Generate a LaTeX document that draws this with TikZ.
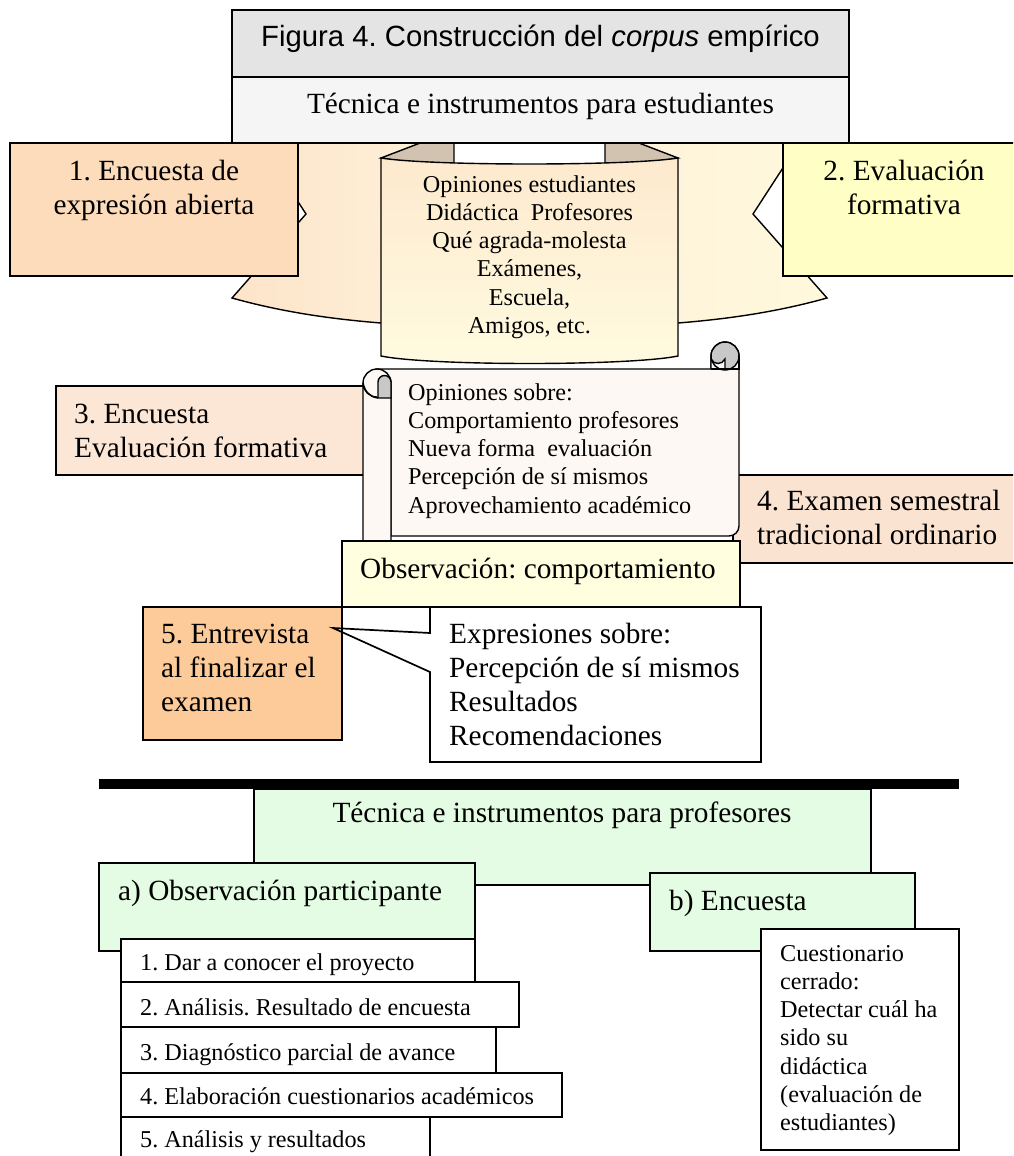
\documentclass[tikz,border=0pt]{standalone}
\usepackage{fontspec}
\setmainfont{Liberation Serif}
\newfontfamily\arialfont{Liberation Sans}
\frenchspacing
\definecolor{titlegray}{HTML}{E4E4E4}
\definecolor{subgray}{HTML}{F5F5F5}
\definecolor{peachA}{HTML}{FDDCBC}
\definecolor{yellowB}{HTML}{FFFFC5}
\definecolor{wingL}{HTML}{FDE4C9}
\definecolor{wingM}{HTML}{FEF2DA}
\definecolor{wingR}{HTML}{FFF9DC}
\definecolor{panelTop}{HTML}{FDE9CE}
\definecolor{panelBot}{HTML}{FFFBE0}
\definecolor{foldtan}{HTML}{D2C3B0}
\definecolor{peachC}{HTML}{FCE7D7}
\definecolor{peachD}{HTML}{FBE3D2}
\definecolor{obsyellow}{HTML}{FFFFE0}
\definecolor{orangeE}{HTML}{FCCB99}
\definecolor{greenF}{HTML}{E3FCE3}
\definecolor{scrollfill}{HTML}{FDF8F3}
\definecolor{curlgray}{HTML}{C8C8C8}
% stacked lines whose first baseline is the node's base
\newcommand\stackL[1]{\vtop{\halign{##\hfil\cr#1\crcr}}}
\newcommand\stackC[1]{\vtop{\halign{\hfil##\hfil\cr#1\crcr}}}
\begin{document}
\begin{tikzpicture}[x=1pt,y=-1pt,line join=miter,
  frame/.style={draw=black,line width=1.7pt},
  thin/.style={draw=black,line width=1.4pt},
  bigtxt/.style={font=\fontsize{29.3}{34}\selectfont,inner sep=0pt},
  smalltxt/.style={font=\fontsize{24.2}{28.3}\selectfont,inner sep=0pt}]
\useasboundingbox (0,0) rectangle (1013,1156);
\clip (0,0) rectangle (1013,1156);

% ---------- curved ribbon behind the student boxes ----------
\shade[thin,left color=wingL,right color=wingM]
  (232,100) -- (306,214) -- (232,298) .. controls (282,312) and (331,319) .. (381,323)
  -- (454,323) -- (454,100) -- cycle;
\shade[thin,left color=wingM,right color=wingR]
  (827,100) -- (753,214) -- (827,298) .. controls (777,312) and (728,319) .. (678,323)
  -- (605,323) -- (605,100) -- cycle;
\fill[white] (454,120) rectangle (605,175);
\draw[thin,fill=foldtan] (381,158) -- (441,135) -- (454,135) -- (454,170) -- cycle;
\draw[thin,fill=foldtan] (678,158) -- (618,135) -- (605,135) -- (605,170) -- cycle;
\shade[thin,top color=panelTop,bottom color=panelBot]
  (381,158) .. controls (430,166) and (629,166) .. (678,158) -- (678,356)
  .. controls (629,366) and (430,366) .. (381,356) -- cycle;
\node[smalltxt,anchor=base] (panel) at (529.5,192)
  {\stackC{Opiniones estudiantes\cr Didáctica~ Profesores\cr Qué agrada-molesta\cr Exámenes,\cr Escuela,\cr Amigos, etc.}};

% ---------- heading boxes ----------
\path[frame,fill=titlegray] (232,10) rectangle (849,77);
\path[frame,fill=subgray] (232,77) rectangle (849,143);
\node[inner sep=0pt,anchor=base,font=\arialfont\fontsize{29.3}{34}\selectfont] (title) at (540.5,47)
  {Figura 4. Construcción del \textit{corpus} empírico};
\node[bigtxt,anchor=base] (studhead) at (540.5,113) {Técnica e instrumentos para estudiantes};

% ---------- boxes 1 and 2 ----------
\path[frame,fill=peachA] (10,143) rectangle (298,276);
\node[bigtxt,anchor=base] (enc1) at (154,180) {\stackC{1. Encuesta de\cr expresión abierta}};
\path[frame,fill=yellowB] (783,143) rectangle (1030,276);
\node[bigtxt,anchor=base] (eval2) at (904,180) {\stackC{2. Evaluación\cr formativa}};

% ---------- boxes 3 and 4 ----------
\path[frame,fill=peachC] (56,386) rectangle (370,475);
\node[bigtxt,anchor=base west] (enc3) at (74,423) {\stackL{3. Encuesta\cr Evaluación formativa}};
\path[frame,fill=peachD] (733,475) rectangle (1030,563);
\node[bigtxt,anchor=base west] (exam4) at (757,510) {\stackL{4. Examen semestral\cr tradicional ordinario}};

% ---------- scroll ----------
\draw[thin,fill=scrollfill] (377,369) -- (711,369) -- (711,356)
  arc[start angle=180,end angle=360,radius=14] -- (739,526)
  arc[start angle=0,end angle=90,radius=10] -- (391,536) -- (391,383) -- cycle;
\fill[curlgray] (725,356) circle (13.3);
\draw[thin,fill=scrollfill] (711,369) -- (711,359) .. controls (714,365) and (722,365) .. (725,359) -- (725,369);
\draw[thin] (725,356) circle (14);
\draw[thin] (711,369) -- (739,369) (739,356) -- (739,370);
\draw[thin,fill=scrollfill] (391,550) -- (363,550) -- (363,383)
  arc[start angle=180,end angle=360,radius=14] -- cycle;
\draw[thin] (363,383) arc[start angle=180,end angle=90,radius=14];
\draw[thin] (363,383) .. controls (365,392) and (370,397) .. (378,398);
\draw[thin,fill=curlgray] (378,398) -- (378,382) arc[start angle=180,end angle=360,radius=6.5]
  -- (391,398) -- cycle;
\node[smalltxt,anchor=base west] (opin) at (408,400)
  {\stackL{Opiniones sobre:\cr Comportamiento profesores\cr Nueva forma~ evaluación\cr Percepción de sí mismos\cr Aprovechamiento académico}};

% ---------- observation box ----------
\path[frame,fill=obsyellow] (342,541) rectangle (740,607);
\node[bigtxt,anchor=base west] (obs) at (360,578) {Observación: comportamiento};

% ---------- interview box and callout ----------
\path[frame,fill=orangeE] (143,607) rectangle (342,740);
\node[bigtxt,anchor=base west] (entr5) at (161,643) {\stackL{5. Entrevista\cr al finalizar el\cr examen}};
\draw[frame,fill=white] (430,607) -- (761,607) -- (761,762) -- (430,762) -- (430,672)
  -- (333,628) -- (430,633) -- cycle;
\draw[frame] (342,607) -- (342,740);
\node[bigtxt,anchor=base west] (expr) at (449,643)
  {\stackL{Expresiones sobre:\cr Percepción de sí mismos\cr Resultados\cr Recomendaciones}};

% ---------- separator ----------
\fill[black] (99,779) rectangle (959,789);

% ---------- teachers ----------
\path[frame,fill=greenF] (254,789) rectangle (871,885);
\node[bigtxt,anchor=base] (profhead) at (562,822) {Técnica e instrumentos para profesores};
\path[frame,fill=greenF] (99,863) rectangle (475,951);
\node[bigtxt,anchor=base west] (obsa) at (118,900) {a) Observación participante};
\path[frame,fill=greenF] (650,873) rectangle (915,951);
\node[bigtxt,anchor=base west] (encb) at (669,910) {b) Encuesta};

\path[frame,fill=white] (121,939) rectangle (475,982);
\node[smalltxt,anchor=base west] (it1) at (140,970) {1. Dar a conocer el proyecto};
\path[frame,fill=white] (121,982) rectangle (519,1027);
\node[smalltxt,anchor=base west] (it2) at (140,1015) {2. Análisis. Resultado de encuesta};
\path[frame,fill=white] (121,1027) rectangle (496,1073);
\node[smalltxt,anchor=base west] (it3) at (140,1060) {3. Diagnóstico parcial de avance};
\path[frame,fill=white] (121,1073) rectangle (562,1117);
\node[smalltxt,anchor=base west] (it4) at (140,1104) {4. Elaboración cuestionarios académicos};
\path[frame,fill=white] (121,1117) rectangle (430,1170);
\node[smalltxt,anchor=base west] (it5) at (140,1147) {5. Análisis y resultados};

\path[frame,fill=white] (761,929) rectangle (959,1150);
\node[smalltxt,anchor=base west] (cuest) at (780,961)
  {\stackL{Cuestionario\cr cerrado:\cr Detectar cuál ha\cr sido su\cr didáctica\cr (evaluación de\cr estudiantes)}};
\end{tikzpicture}
\end{document}
